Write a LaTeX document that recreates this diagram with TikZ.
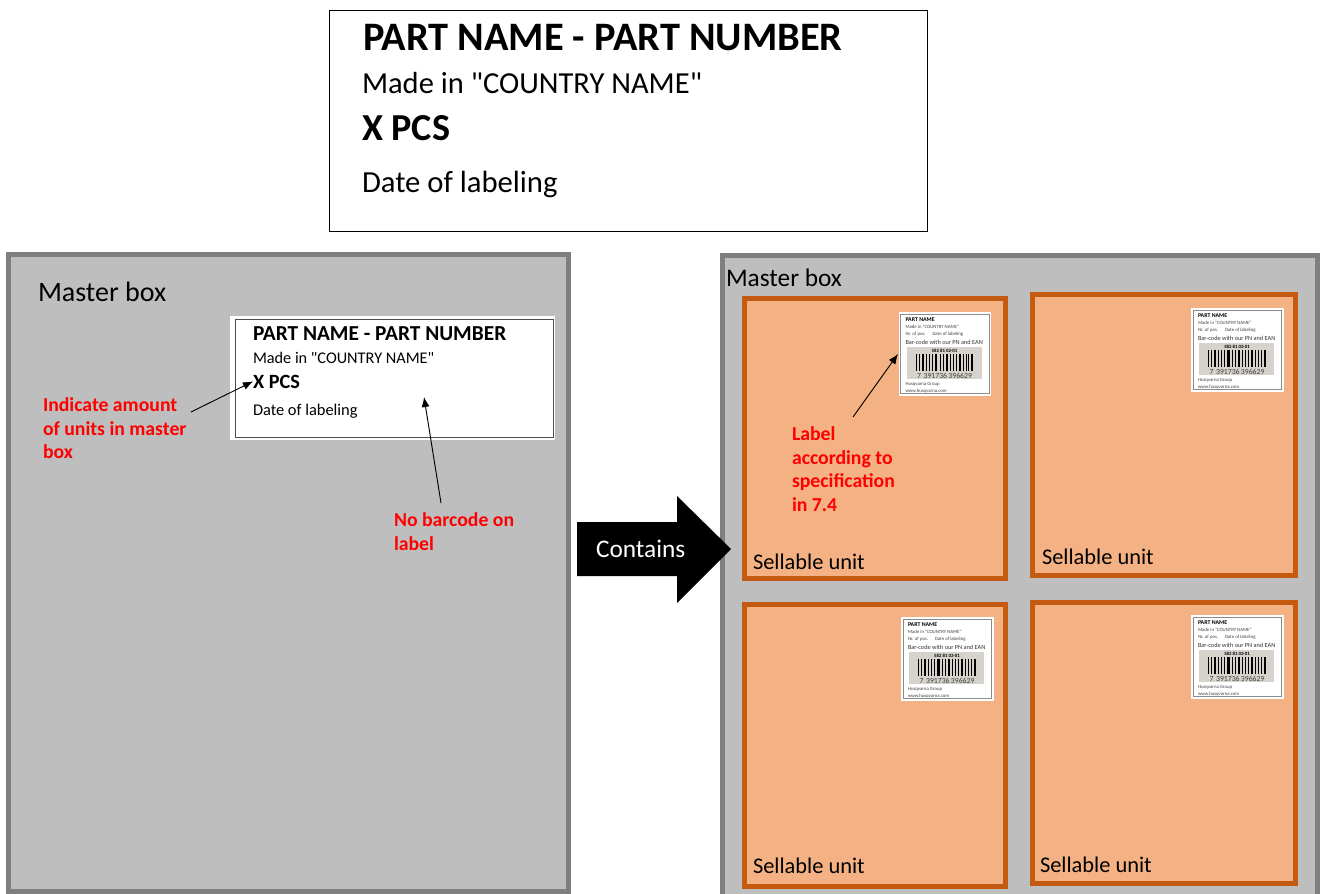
\documentclass[tikz,border=0pt]{standalone}
\usepackage{fontspec}
\setmainfont{Carlito}[Ligatures=TeXOff]
\usetikzlibrary{arrows.meta}
\definecolor{boxgray}{HTML}{BEBEBE}
\definecolor{edgegray}{HTML}{7F7F7F}
\definecolor{unitfill}{HTML}{F4B183}
\definecolor{unitedge}{HTML}{C55A11}
\definecolor{codegray}{HTML}{D6D3CC}
\newcommand{\fs}[2]{\fontsize{#1}{#2}\selectfont}
\tikzset{
  txt/.style={anchor=base west,inner sep=0,outer sep=0,text=black},
  master/.style={draw=edgegray,fill=boxgray,line width=3.75pt},
  unitbox/.style={draw=unitedge,fill=unitfill,line width=3.75pt},
  redtxt/.style={anchor=north west,inner sep=0,outer sep=0,align=left,text=red,font=\bfseries\fs{14.8}{17.6}},
  callout/.style={draw=black,line width=0.7pt,-{Latex[length=7.5pt,width=6pt]}},
  unitlabel/.style={txt,font=\fs{16.8}{18}},
  tiny/.style={txt,text=black!75,font=\fs{3.6}{4}},
}
\newcommand{\minilabel}[3]{%
\begin{scope}[shift={(#1,#2)}]
  \fill[white] (0,0) rectangle (92.5,83.5);
  \draw[black!45,line width=0.4pt] (2,2) rectangle (90.5,81.5);
  \node[txt,font=\bfseries\fs{4.4}{5}] (#3a) at (7,9.5) {PART NAME};
  \node[tiny] (#3b) at (7,16) {Made in "COUNTRY NAME"};
  \node[tiny] (#3c) at (7,23.5) {Nr. of pos.};
  \node[tiny] (#3d) at (34,23.5) {Date of labeling};
  \node[txt,text=black!80,font=\fs{4.7}{6}] (#3e) at (7,32.5) {Bar-code with our PN and EAN};
  \fill[codegray] (8,35) rectangle (83,67);
  \node[anchor=base,inner sep=0,font=\bfseries\fs{3.6}{4}] (#3f) at (46,40.5) {582 81 02-01};
  \foreach \bx/\bw in {17/1.2,20/1.2,23/2.4,27/1,30/1.2,33/1,36/2.6,41/1,44/1,47/2.2,51/0.8,54/1.2,57/1,60/2.4,64/1.2,67/1,69.5/1.4,72.5/2.2}
    \fill[black] (\bx,42) rectangle ++(\bw,17);
  \node[anchor=base,inner sep=0,text=black!75,font=\fs{5.8}{6}] (#3g) at (46,66) {7\hspace{2pt}391736\hspace{1pt}396629};
  \node[tiny] (#3h) at (7,73.5) {Husqvarna Group};
  \node[tiny] (#3i) at (7,80.5) {www.husqvarna.com};
\end{scope}}
\begin{document}
\begin{tikzpicture}[x=0.75pt,y=-0.75pt]
\useasboundingbox (0,0) rectangle (1323,893);
\clip (0,0) rectangle (1323,893);
% top label
\draw[black,line width=0.65pt] (329,10.5) rectangle (927,231);
\node[txt,font=\bfseries\fs{30.3}{33}] (t1) at (363,50) {PART NAME - PART NUMBER};
\node[txt,font=\fs{22.9}{26}] (t2) at (362,93) {Made in "COUNTRY NAME"};
\node[txt,font=\bfseries\fs{28.6}{32}] (t3) at (362,140) {X PCS};
\node[txt,font=\fs{23}{26}] (t4) at (362,192) {Date of labeling};
% left master box
\draw[master] (8.5,254.5) rectangle (568.5,891);
\node[txt,font=\fs{21}{24}] (m1) at (38,301) {Master box};
\fill[white] (230,316) rectangle (555,440);
\draw[black!70,line width=0.7pt] (235,319) rectangle (553,437);
\node[txt,font=\bfseries\fs{16}{19}] (l1) at (253,340) {PART NAME - PART NUMBER};
\node[txt,font=\fs{12.2}{14}] (l2) at (253,363) {Made in "COUNTRY NAME"};
\node[txt,font=\bfseries\fs{15.2}{18}] (l3) at (253,388) {X PCS};
\node[txt,font=\fs{12.3}{14}] (l4) at (253,415) {Date of labeling};
\coordinate (noBarTarget) at (424,397);
\node[redtxt] (r1) at (43,398) {Indicate amount\\of units in master\\box};
\node[redtxt] (r2) at (394,513) {No barcode on\\label};
\coordinate (indTail) at (191,412);
\coordinate (noBarTail) at (441,503);
\draw[callout] (indTail) -- (l3.west);
\draw[callout] (noBarTail) -- (noBarTarget);
% right master box
\draw[master] (722.5,255) rectangle (1317.5,900);
\node[txt,font=\fs{19}{22}] (m2) at (726,286) {Master box};
\draw[unitbox] (744.5,298.5) rectangle (1005,578);
\draw[unitbox] (1032.5,294.5) rectangle (1295,575);
\draw[unitbox] (744.5,604.5) rectangle (1005,886);
\draw[unitbox] (1032.5,602.5) rectangle (1295,883.5);
\node[unitlabel] (u1) at (753,569) {Sellable unit};
\node[unitlabel] (u2) at (1042,564) {Sellable unit};
\node[unitlabel] (u3) at (753,873) {Sellable unit};
\node[unitlabel] (u4) at (1040,872) {Sellable unit};
\minilabel{898.5}{312}{a}
\minilabel{1191}{308}{b}
\minilabel{901}{617}{c}
\minilabel{1191}{615}{d}
\node[redtxt] (r3) at (792,427) {Label\\according to\\specification\\in 7.4};
\coordinate (labelTail) at (853,417);
\coordinate (labelTarget) at (898,354);
\draw[callout] (labelTail) -- (labelTarget);
% contains arrow
\fill[black] (577,522) -- (677,522) -- (677,496) -- (731,549) -- (677,603) -- (677,576) -- (577,576) -- cycle;
\node[txt,text=white,font=\fs{19}{22}] (c) at (596,557.5) {Contains};
\end{tikzpicture}
\end{document}
